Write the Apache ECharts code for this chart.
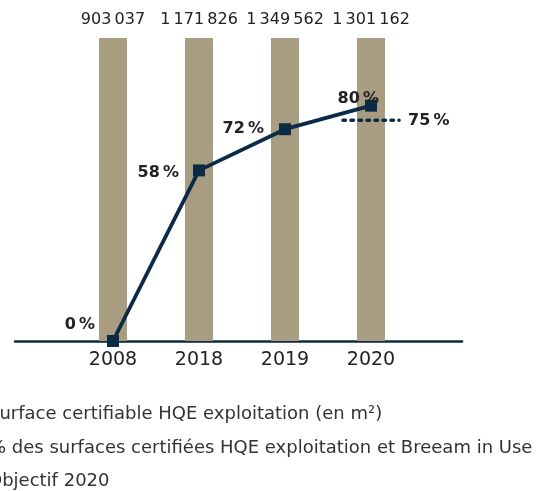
<!DOCTYPE html>
<html>
<head>
<meta charset="utf-8">
<script src="https://cdn.jsdelivr.net/npm/echarts@6/dist/echarts.min.js"></script>
<style>html,body{margin:0;padding:0;background:#fff}#c{width:549px;height:491px}</style>
</head>
<body>
<div id="c"></div>
<script>
var years = ['2008', '2018', '2019', '2020'];
var surfaces = [903037, 1171826, 1349562, 1301162];
var percents = [0, 58, 72, 80];
var objective2020 = 75;
var seriesNames = [
  'Surface certifiable HQE exploitation (en m²)',
  '% des surfaces certifiées HQE exploitation et Breeam in Use',
  'Objectif 2020'
];

var FONT = 'DejaVu Sans';
var NAVY = '#0b2a46';
var TAN = '#a89d80';

function fmtThousands(v) {
  return String(v).replace(/\B(?=(\d{3})+(?!\d))/g, '\u2009');
}

var pctLabelTweaks = [
  { distance: 14, offset: [2, -16] },
  { distance: 14, offset: [0, 2] },
  { distance: 15, offset: [0, 0] },
  { distance: 14, offset: [28, -7] }
];

var legendTops = [405, 439, 472];
var legends = seriesNames.map(function (n, i) {
  return {
    orient: 'vertical', left: -39, top: legendTops[i], padding: 0,
    itemWidth: 22, itemHeight: 12,
    textStyle: { color: '#333', fontSize: 18, fontFamily: FONT },
    data: [n]
  };
});

var chart = echarts.init(document.getElementById('c'), null, { renderer: 'canvas' });
chart.setOption({
  animation: false,
  textStyle: { fontFamily: FONT },
  grid: [
    { left: 70, right: 135, top: 38, bottom: 150 },
    { left: 15, right: 87, top: 38, bottom: 150 }
  ],
  xAxis: [
    {
      type: 'category', data: years, gridIndex: 0, boundaryGap: true,
      axisLine: { show: false }, axisTick: { show: false },
      axisLabel: { color: '#222', fontSize: 19, margin: 10, fontFamily: FONT }
    },
    {
      type: 'value', gridIndex: 1, min: 0, max: 1,
      axisLine: { show: true, lineStyle: { color: NAVY, width: 2.5 } },
      axisTick: { show: false }, axisLabel: { show: false }, splitLine: { show: false }
    }
  ],
  yAxis: [
    { type: 'value', gridIndex: 0, min: 0, max: 103, show: false, splitLine: { show: false } },
    { type: 'value', gridIndex: 0, min: 0, max: function (e) { return e.min; }, show: false, splitLine: { show: false } },
    { type: 'value', gridIndex: 1, min: 0, max: 1, show: false, splitLine: { show: false } }
  ],
  legend: legends,
  series: [
    {
      name: seriesNames[0], type: 'bar', xAxisIndex: 0, yAxisIndex: 1,
      data: surfaces, barWidth: 28, clip: true, z: 1,
      itemStyle: { color: TAN },
      label: {
        show: true, position: 'top', distance: 10, color: '#222', fontSize: 16, fontFamily: FONT,
        formatter: function (p) { return fmtThousands(surfaces[p.dataIndex]); }
      }
    },
    {
      name: seriesNames[1], type: 'line', xAxisIndex: 0, yAxisIndex: 0, z: 5,
      data: percents.map(function (v, i) {
        return {
          value: v,
          label: { position: 'left', distance: pctLabelTweaks[i].distance, offset: pctLabelTweaks[i].offset }
        };
      }),
      symbol: 'rect', symbolSize: 12,
      lineStyle: { color: NAVY, width: 3.8 },
      itemStyle: { color: NAVY },
      label: {
        show: true, color: '#222', fontSize: 16, fontWeight: 'bold', fontFamily: FONT,
        formatter: function (p) { return p.value + '\u2009%'; }
      }
    },
    {
      name: seriesNames[2], type: 'custom', xAxisIndex: 0, yAxisIndex: 0, z: 6,
      itemStyle: { color: NAVY },
      data: [[years.length - 1, objective2020]],
      renderItem: function (params, api) {
        var p = api.coord([api.value(0), api.value(1)]);
        var hw = api.size([1, 0])[0] * 0.326;
        return {
          type: 'group',
          children: [
            {
              type: 'line',
              shape: { x1: p[0] - hw, y1: p[1], x2: p[0] + hw, y2: p[1] },
              style: { stroke: NAVY, lineWidth: 3.5, lineDash: [2.5, 5.5], lineCap: 'round' }
            },
            {
              type: 'text',
              x: p[0] + hw + 9, y: p[1],
              style: {
                text: api.value(1) + '\u2009%', fill: '#222', font: 'bold 16px ' + FONT,
                textAlign: 'left', textVerticalAlign: 'middle'
              }
            }
          ]
        };
      }
    }
  ]
});
</script>
</body>
</html>
